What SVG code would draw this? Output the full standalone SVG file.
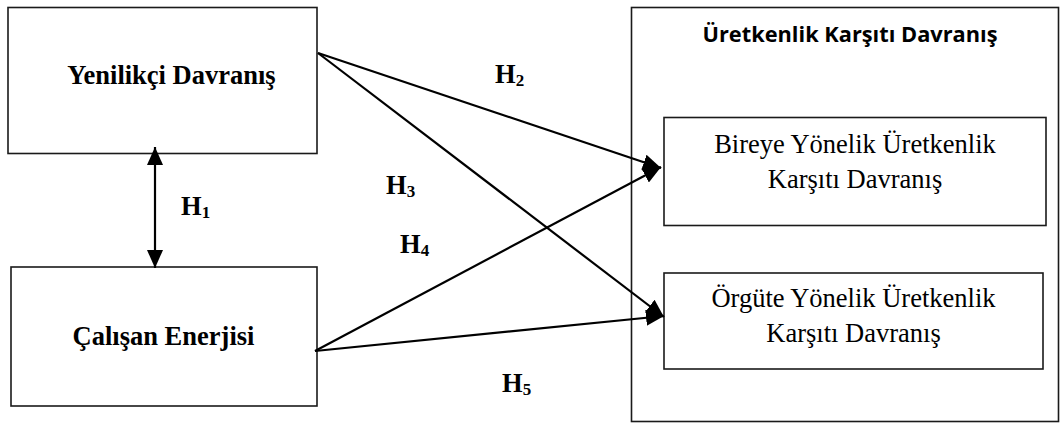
<svg xmlns="http://www.w3.org/2000/svg" width="1064" height="426" viewBox="0 0 1064 426">
<style>
.box{fill:#fff;stroke:#1a1a1a;stroke-width:1.6}
.frame{fill:none;stroke:#1a1a1a;stroke-width:1.6}
.bt{font-family:"Liberation Serif","Times New Roman",serif;font-weight:bold;font-size:26.5px;fill:#000}
.rt{font-family:"Liberation Serif","Times New Roman",serif;font-size:26.5px;fill:#000}
.st{font-family:"Open Sans","Liberation Sans",sans-serif;font-weight:bold;font-size:21px;fill:#000}
.lab{font-family:"Liberation Serif","Times New Roman",serif;font-weight:bold;font-size:26.5px;fill:#000}
.sub{font-size:17px}
.con{stroke:#000;stroke-width:2.2;fill:none}
</style>
<defs>
<marker id="ah" markerUnits="userSpaceOnUse" markerWidth="18" markerHeight="16" refX="18" refY="8" orient="auto-start-reverse" viewBox="0 0 18 16">
<path d="M0,0 L18,8 L0,16 z" fill="#000"/>
</marker>
</defs>
<g id="n-ukd">
<rect class="frame" x="631.5" y="7.5" width="427" height="414"/>
<text class="st" x="850" y="42" text-anchor="middle" textLength="295" lengthAdjust="spacingAndGlyphs">Üretkenlik Karşıtı Davranış</text>
</g>
<g id="n-yd">
<rect class="box" x="8" y="7.5" width="309" height="146"/>
<text class="bt" x="171.5" y="84" text-anchor="middle">Yenilikçi Davranış</text>
</g>
<g id="n-ce">
<rect class="box" x="11" y="267" width="306" height="139"/>
<text class="bt" x="163.5" y="345" text-anchor="middle">Çalışan Enerjisi</text>
</g>
<g id="n-byukd">
<rect class="box" x="664" y="117.5" width="382" height="108"/>
<text class="rt" x="855" y="153" text-anchor="middle">Bireye Yönelik Üretkenlik</text>
<text class="rt" x="855" y="188" text-anchor="middle">Karşıtı Davranış</text>
</g>
<g id="n-oyukd">
<rect class="box" x="664" y="273" width="379" height="96"/>
<text class="rt" x="853.5" y="307" text-anchor="middle">Örgüte Yönelik Üretkenlik</text>
<text class="rt" x="853.5" y="342" text-anchor="middle">Karşıtı Davranış</text>
</g>
<g id="connectors">
<line class="con" x1="155" y1="147" x2="155" y2="268" marker-start="url(#ah)" marker-end="url(#ah)"/>
<line class="con" x1="318" y1="53" x2="661" y2="168" marker-end="url(#ah)"/>
<line class="con" x1="318" y1="53" x2="664" y2="317" marker-end="url(#ah)"/>
<line class="con" x1="315" y1="351" x2="661" y2="167" marker-end="url(#ah)"/>
<line class="con" x1="315" y1="351" x2="664" y2="316" marker-end="url(#ah)"/>
</g>
<g id="labels">
<text class="lab" x="181" y="215">H<tspan class="sub" dy="3">1</tspan></text>
<text class="lab" x="495" y="83">H<tspan class="sub" dy="3">2</tspan></text>
<text class="lab" x="386" y="194">H<tspan class="sub" dy="3">3</tspan></text>
<text class="lab" x="400" y="253">H<tspan class="sub" dy="3">4</tspan></text>
<text class="lab" x="502" y="392">H<tspan class="sub" dy="3">5</tspan></text>
</g>
</svg>
